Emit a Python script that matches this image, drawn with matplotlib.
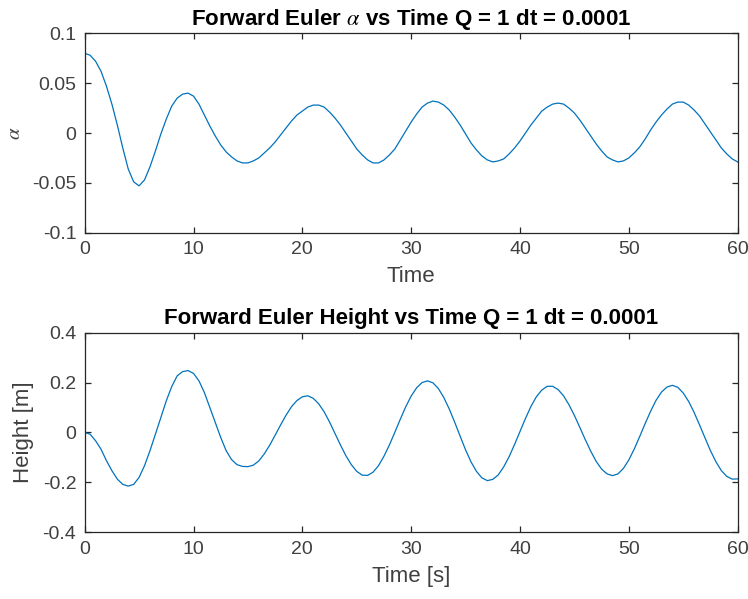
import numpy as np
import matplotlib
matplotlib.use("Agg")
import matplotlib.pyplot as plt

# sample times, every 0.5 s over the 60 s run
time = np.linspace(0, 60, 121)

# pitch angle alpha from the Q = 1 forward Euler run
alpha = [0.080, 0.078, 0.072, 0.062, 0.047, 0.029, 0.008, -0.015, -0.036, -0.049,
         -0.053, -0.047, -0.034, -0.018, -0.001, 0.014, 0.027, 0.035, 0.039, 0.040,
         0.037, 0.029, 0.018, 0.007, -0.003, -0.012, -0.019, -0.024, -0.028, -0.030,
         -0.030, -0.028, -0.025, -0.020, -0.015, -0.009, -0.002, 0.005, 0.012, 0.018,
         0.022, 0.026, 0.028, 0.028, 0.026, 0.021, 0.015, 0.008, 0.000, -0.008,
         -0.016, -0.022, -0.027, -0.030, -0.030, -0.027, -0.022, -0.016, -0.007, 0.002,
         0.011, 0.019, 0.026, 0.030, 0.032, 0.031, 0.028, 0.023, 0.016, 0.008,
         -0.001, -0.010, -0.017, -0.023, -0.027, -0.029, -0.028, -0.026, -0.021, -0.015,
         -0.008, 0.000, 0.008, 0.015, 0.022, 0.026, 0.029, 0.030, 0.029, 0.025,
         0.020, 0.013, 0.005, -0.003, -0.011, -0.018, -0.024, -0.027, -0.029, -0.028,
         -0.025, -0.020, -0.014, -0.006, 0.003, 0.011, 0.018, 0.024, 0.029, 0.031,
         0.031, 0.028, 0.023, 0.017, 0.009, 0.001, -0.007, -0.015, -0.021, -0.026,
         -0.029]

# height in metres, same run
height = [0.000, -0.007, -0.033, -0.067, -0.113, -0.153, -0.187, -0.208, -0.215, -0.208,
          -0.180, -0.133, -0.073, -0.007, 0.060, 0.127, 0.184, 0.227, 0.244, 0.248,
          0.237, 0.207, 0.160, 0.100, 0.040, -0.020, -0.073, -0.109, -0.129, -0.136,
          -0.137, -0.131, -0.114, -0.086, -0.051, -0.011, 0.030, 0.069, 0.103, 0.128,
          0.143, 0.147, 0.137, 0.115, 0.083, 0.042, -0.004, -0.050, -0.093, -0.129,
          -0.156, -0.171, -0.172, -0.159, -0.133, -0.095, -0.050, 0.001, 0.053, 0.103,
          0.146, 0.179, 0.200, 0.207, 0.199, 0.176, 0.140, 0.094, 0.041, -0.015,
          -0.070, -0.118, -0.156, -0.182, -0.193, -0.188, -0.170, -0.138, -0.097, -0.048,
          0.004, 0.056, 0.104, 0.143, 0.170, 0.185, 0.185, 0.172, 0.147, 0.111,
          0.068, 0.020, -0.029, -0.075, -0.116, -0.147, -0.166, -0.173, -0.166, -0.144,
          -0.110, -0.066, -0.016, 0.036, 0.085, 0.129, 0.162, 0.182, 0.189, 0.181,
          0.158, 0.124, 0.080, 0.030, -0.022, -0.073, -0.117, -0.153, -0.176, -0.187,
          -0.186]

x_ticks = [0, 10, 20, 30, 40, 50, 60]
alpha_ticks = [-0.1, -0.05, 0, 0.05, 0.1]
alpha_labels = ["-0.1", "-0.05", "0", "0.05", "0.1"]
height_ticks = [-0.4, -0.2, 0, 0.2, 0.4]
height_labels = ["-0.4", "-0.2", "0", "0.2", "0.4"]

plt.rcParams['font.family'] = ['Liberation Sans', 'DejaVu Sans']
plt.rcParams['mathtext.fontset'] = 'stix'

line_color = '#0072BD'
axis_color = '#262626'
label_color = '#404040'


def style_axes(ax):
    for s in ax.spines.values():
        s.set_color(axis_color)
        s.set_linewidth(0.9)
    ax.tick_params(direction='in', length=4.5, width=0.9, colors=axis_color,
                   labelcolor=label_color, labelsize=14, top=True, right=True, pad=6)


fig = plt.figure(figsize=(7.48, 5.99), dpi=100)

ax1 = fig.add_axes([0.1132, 0.6115, 0.873, 0.3329])
ax1.plot(time, alpha, color=line_color, linewidth=0.9)
ax1.set_xlim(0, 60)
ax1.set_ylim(-0.1, 0.1)
ax1.set_xticks(x_ticks)
ax1.set_yticks(alpha_ticks)
ax1.set_yticklabels(alpha_labels)
style_axes(ax1)
ax1.set_title(r'Forward Euler $\alpha$ vs Time Q = 1 dt = 0.0001',
              fontsize=16, fontweight='bold', color='black', pad=6)
ax1.set_xlabel('Time', fontsize=16, color=label_color, labelpad=6)
ax1.set_ylabel(r'$\alpha$', fontsize=15, color=label_color, labelpad=6)

ax2 = fig.add_axes([0.1132, 0.1114, 0.873, 0.3332])
ax2.plot(time, height, color=line_color, linewidth=0.9)
ax2.set_xlim(0, 60)
ax2.set_ylim(-0.4, 0.4)
ax2.set_xticks(x_ticks)
ax2.set_yticks(height_ticks)
ax2.set_yticklabels(height_labels)
style_axes(ax2)
ax2.set_title('Forward Euler Height vs Time Q = 1 dt = 0.0001',
              fontsize=16, fontweight='bold', color='black', pad=6)
ax2.set_xlabel('Time [s]', fontsize=16, color=label_color, labelpad=6)
ax2.set_ylabel('Height [m]', fontsize=16, color=label_color, labelpad=6)

fig.savefig('out.png', dpi=100)
